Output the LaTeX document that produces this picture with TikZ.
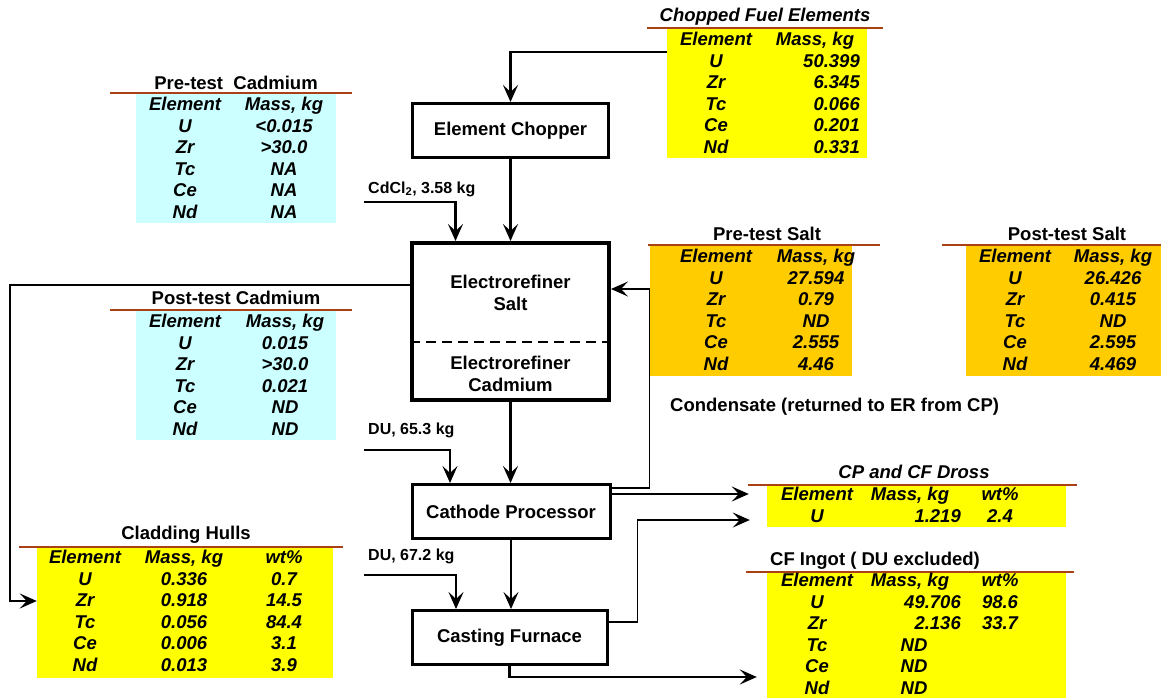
\documentclass[tikz,border=0pt]{standalone}
\usepackage{fontspec}
\setmainfont{Liberation Sans}
\usetikzlibrary{arrows.meta}

\definecolor{cadcyan}{RGB}{204,255,255}
\definecolor{fuelyellow}{RGB}{255,255,0}
\definecolor{saltorange}{RGB}{255,204,0}
\definecolor{rulebrown}{RGB}{170,65,20}

\tikzset{
	unit/.style={draw, line width=3pt, minimum width=196pt, minimum height=54pt,
		font=\fontsize{18.5}{21}\selectfont\bfseries, inner sep=0pt},
	flow/.style={line width=2.2pt, -{Stealth[length=17pt, width=15pt, inset=7pt]}},
	thinflow/.style={flow, line width=1.6pt},
	tabfill/.style={fill=#1, draw=none, inner sep=0pt},
	tabrule/.style={draw=rulebrown, line width=2pt},
	title/.style={font=\fontsize{18.5}{21}\selectfont\bfseries, inner sep=0pt},
	ititle/.style={font=\fontsize{18.5}{21}\selectfont\bfseries\itshape, inner sep=0pt},
	cell/.style={font=\fontsize{18.5}{21}\selectfont\bfseries\itshape, inner sep=0pt,
		text height=13pt, text depth=0pt},
	flowlabel/.style={font=\fontsize{16}{19}\selectfont\bfseries, inner sep=0pt, anchor=west}
}

\begin{document}
\begin{tikzpicture}[x=1pt, y=-1pt]

	\useasboundingbox (0,0) rectangle (1161,698);

	% Process units
	\node[unit] (chopper) at (510.5,130.5) {Element Chopper};
	\node[unit, line width=4pt, minimum width=197pt, minimum height=157pt] (erbox) at (510.5,321.5) {};
	\node[font=\fontsize{18.5}{22}\selectfont\bfseries, align=center] (ersalt) at (510.5,293) {Electrorefiner\\Salt};
	\node[font=\fontsize{18.5}{22}\selectfont\bfseries, align=center] (ercd) at (510.5,374) {Electrorefiner\\Cadmium};
	\draw[line width=2.5pt, dash pattern=on 10pt off 6pt] (erbox.west |- 0,342) -- (erbox.east |- 0,342);
	\node[unit, minimum width=198pt] (cp) at (511,511.5) {Cathode Processor};
	\node[unit, minimum width=195pt] (cf) at (509.5,637.5) {Casting Furnace};

	% Table fills
	\node[tabfill=fuelyellow, minimum width=200pt, minimum height=129pt] (fuelbox) at (767,93.5) {};
	\node[tabfill=cadcyan, minimum width=200pt, minimum height=129pt] (precdbox) at (236,158.5) {};
	\node[tabfill=cadcyan, minimum width=200pt, minimum height=129pt] (postcdbox) at (236,375.5) {};
	\node[tabfill=saltorange, minimum width=202pt, minimum height=130pt] (presaltbox) at (751,311) {};
	\node[tabfill=saltorange, minimum width=195pt, minimum height=130pt] (postsaltbox) at (1063.5,311) {};
	\node[tabfill=fuelyellow, minimum width=296pt, minimum height=130pt] (hullbox) at (185,613) {};
	\node[tabfill=fuelyellow, minimum width=299pt, minimum height=41pt] (drossbox) at (916.5,506.5) {};
	\node[tabfill=fuelyellow, minimum width=299pt, minimum height=125pt] (ingotbox) at (916.5,635.5) {};

	% Table titles and rules
	\node[ititle] (fueltitle) at (765,17) {Chopped Fuel Elements};
	\draw[tabrule] (647,28) -- (883,28);
	\node[title] (precdtitle) at (236,83) {Pre-test\ \ Cadmium};
	\draw[tabrule] (110,93) -- (352,93);
	\node[title] (postcdtitle) at (236,298) {Post-test Cadmium};
	\draw[tabrule] (110,310) -- (352,310);
	\node[title] (presalttitle) at (767,234) {Pre-test Salt};
	\draw[tabrule] (648,245) -- (880,245);
	\node[title] (postsalttitle) at (1067,234) {Post-test Salt};
	\draw[tabrule] (942,245) -- (1161,245);
	\node[title] (hulltitle) at (186,535) {Cladding Hulls};
	\draw[tabrule] (19,547) -- (343,547);
	\node[ititle] (drosstitle) at (914,472) {CP and CF Dross};
	\draw[tabrule] (748,485) -- (1077,485);
	\node[title] (ingottitle) at (875,561) {CF Ingot ( DU excluded)};
	\draw[tabrule] (746,572) -- (1074,572);

	% Chopped fuel elements
	\node[cell] (fuel-hd-el) at (716,39) {Element};
	\node[cell] (fuel-hd-ms) at (815,39) {Mass, kg};
	\foreach \el/\ms [count=\i] in {U/50.399, Zr/6.345, Tc/0.066, Ce/0.201, Nd/0.331} {
		\node[cell] (fuel-el-\i) at (716,{39+21.6*\i}) {\el};
		\node[cell, anchor=east] (fuel-ms-\i) at (860,{39+21.6*\i}) {\ms};
	}

	% Pre-test cadmium
	\node[cell] (precd-hd-el) at (185,104) {Element};
	\node[cell] (precd-hd-ms) at (284,104) {Mass, kg};
	\foreach \el/\ms [count=\i] in {U/<0.015, Zr/>30.0, Tc/NA, Ce/NA, Nd/NA} {
		\node[cell] (precd-el-\i) at (185,{104+21.6*\i}) {\el};
		\node[cell] (precd-ms-\i) at (284,{104+21.6*\i}) {\ms};
	}

	% Post-test cadmium
	\node[cell] (postcd-hd-el) at (185,321) {Element};
	\node[cell] (postcd-hd-ms) at (285,321) {Mass, kg};
	\foreach \el/\ms [count=\i] in {U/0.015, Zr/>30.0, Tc/0.021, Ce/ND, Nd/ND} {
		\node[cell] (postcd-el-\i) at (185,{321+21.6*\i}) {\el};
		\node[cell] (postcd-ms-\i) at (285,{321+21.6*\i}) {\ms};
	}

	% Pre-test salt
	\node[cell] (presalt-hd-el) at (716,256) {Element};
	\node[cell] (presalt-hd-ms) at (816,256) {Mass, kg};
	\foreach \el/\ms [count=\i] in {U/27.594, Zr/0.79, Tc/ND, Ce/2.555, Nd/4.46} {
		\node[cell] (presalt-el-\i) at (716,{256+21.6*\i}) {\el};
		\node[cell] (presalt-ms-\i) at (816,{256+21.6*\i}) {\ms};
	}

	% Post-test salt
	\node[cell] (postsalt-hd-el) at (1015,256) {Element};
	\node[cell] (postsalt-hd-ms) at (1113,256) {Mass, kg};
	\foreach \el/\ms [count=\i] in {U/26.426, Zr/0.415, Tc/ND, Ce/2.595, Nd/4.469} {
		\node[cell] (postsalt-el-\i) at (1015,{256+21.6*\i}) {\el};
		\node[cell] (postsalt-ms-\i) at (1113,{256+21.6*\i}) {\ms};
	}

	% Cladding hulls
	\node[cell] (hull-hd-el) at (85,557) {Element};
	\node[cell] (hull-hd-ms) at (184,557) {Mass, kg};
	\node[cell] (hull-hd-wt) at (284,557) {wt\%};
	\foreach \el/\ms/\wt [count=\i] in {U/0.336/0.7, Zr/0.918/14.5, Tc/0.056/84.4, Ce/0.006/3.1, Nd/0.013/3.9} {
		\node[cell] (hull-el-\i) at (85,{557+21.6*\i}) {\el};
		\node[cell] (hull-ms-\i) at (184,{557+21.6*\i}) {\ms};
		\node[cell] (hull-wt-\i) at (284,{557+21.6*\i}) {\wt};
	}

	% CP and CF dross
	\node[cell] (dross-hd-el) at (817,494) {Element};
	\node[cell] (dross-hd-ms) at (910,494) {Mass, kg};
	\node[cell] (dross-hd-wt) at (1000,494) {wt\%};
	\node[cell] (dross-el-1) at (817,516) {U};
	\node[cell, anchor=east] (dross-ms-1) at (961,516) {1.219};
	\node[cell] (dross-wt-1) at (1000,516) {2.4};

	% CF ingot
	\node[cell] (ingot-hd-el) at (817,580) {Element};
	\node[cell] (ingot-hd-ms) at (910,580) {Mass, kg};
	\node[cell] (ingot-hd-wt) at (1000,580) {wt\%};
	\foreach \el/\ms/\wt [count=\i] in {U/49.706/98.6, Zr/2.136/33.7} {
		\node[cell] (ingot-el-\i) at (817,{580+21.6*\i}) {\el};
		\node[cell, anchor=east] (ingot-ms-\i) at (961,{580+21.6*\i}) {\ms};
		\node[cell] (ingot-wt-\i) at (1000,{580+21.6*\i}) {\wt};
	}
	\foreach \el [count=\i from 3] in {Tc, Ce, Nd} {
		\node[cell] (ingot-el-\i) at (817,{580+21.6*\i}) {\el};
		\node[cell] (ingot-ms-\i) at (914,{580+21.6*\i}) {ND};
	}

	% Feed labels
	\node[flowlabel] (cdcl) at (368,189) {CdCl\textsubscript{2}, 3.58 kg};
	\node[flowlabel] (du1) at (368,430) {DU, 65.3 kg};
	\node[flowlabel] (du2) at (368,556) {DU, 67.2 kg};
	\node[flowlabel, font=\fontsize{18.5}{21}\selectfont\bfseries] (condensate) at (670,407) {Condensate (returned to ER from CP)};
	\coordinate (cdin) at (364,202);
	\coordinate (du1in) at (364,450);
	\coordinate (du2in) at (364,575);
	\coordinate (hullcorner) at (10,601);

	% Main flow
	\draw[flow] (fuelbox.west |- 0,52) -| (chopper.north);
	\draw[flow] (chopper) -- (erbox);
	\draw[flow] (cdin) -| ([xshift=-55pt]erbox.north);
	\draw[flow] (erbox.south) -- (erbox.south |- cp.north);
	\draw[flow] (du1in) -| ([xshift=-61pt]cp.north);
	\draw[flow] (cp.south) -- (cp.south |- cf.north);
	\draw[flow] (du2in) -| ([xshift=-53.5pt]cf.north);

	% Side streams
	\draw[flow] ([yshift=36.5pt]erbox.west) -| (hullcorner) -- ([yshift=12pt]hullbox.west);
	\draw[thinflow] ([yshift=23.5pt]cp.east) -- ++(38,0) |- ([yshift=32.5pt]erbox.east);
	\draw[flow] ([yshift=17.5pt]cp.east) -- ([xshift=-18pt, yshift=12.5pt]drossbox.west);
	\draw[thinflow] ([yshift=15.5pt]cf.east) -- ++(29,0) |- ([xshift=-17pt, yshift=-13.5pt]drossbox.west);
	\draw[flow] (cf.south) |- ([xshift=-10pt, yshift=-41.5pt]ingotbox.west);
\end{tikzpicture}
\end{document}
